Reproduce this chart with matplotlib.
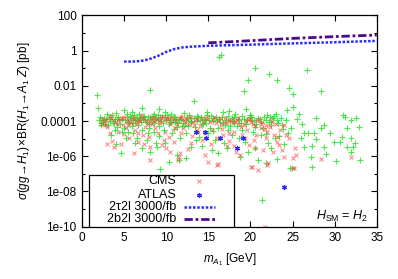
import numpy as np
import matplotlib
matplotlib.use("Agg")
import matplotlib.pyplot as plt
from matplotlib.patches import Rectangle
from matplotlib.lines import Line2D

plt.rcParams['font.family'] = ['Liberation Sans', 'DejaVu Sans']
plt.rcParams['font.size'] = 8.5
plt.rcParams['mathtext.fontset'] = 'custom'
plt.rcParams['mathtext.rm'] = 'Liberation Sans'
plt.rcParams['mathtext.it'] = 'Liberation Sans:italic'

# Projected sensitivity curves (3000/fb)
tau_mass = [5, 6, 7, 8, 9, 10, 11, 12, 13, 14, 15, 17.5, 20, 22.5, 25, 27.5, 30, 32.5, 35]
tau_xsec = [0.24, 0.24, 0.26, 0.33, 0.5, 0.85, 1.25, 1.55, 1.7, 1.8, 1.9, 2.05, 2.2, 2.4, 2.6,
            2.8, 3.0, 3.3, 3.6]
bb_mass = [15, 17.5, 20, 22.5, 25, 27.5, 30, 32.5, 35]
bb_xsec = [2.8, 3.2, 3.7, 4.3, 5.0, 5.6, 6.3, 7.0, 7.7]

# Scan points (all points, green)
all_points = [
    (1.8, 3.0e-3), (1.9, 5.2e-4), (8.1, 5.9e-3), (13.3, 1.4e-3), (16.25, 0.43), (16.55, 0.59),
    (20.5, 0.105), (22.2, 0.048), (23.1, 0.022), (26.7, 0.079), (19.7, 0.022), (19.2, 5.4e-3),
    (24.6, 7.9e-3), (25.0, 3.3e-3), (28.4, 5.4e-3), (25.1, 6.6e-4), (19.5, 4.9e-4), (24.3, 4.3e-4),
    (19.96, 2.2e-4), (31.0, 2.2e-4), (31.2, 1.8e-4), (32.5, 1.45e-4), (31.9, 1.1e-4), (27.8, 1.45e-4),
    (28.7, 6.0e-5), (28.4, 3.9e-5), (32.9, 4.5e-5), (31.5, 3.9e-5), (29.5, 2.0e-5), (26.4, 2.0e-5),
    (26.8, 2.0e-5), (27.5, 2.0e-5), (30.9, 1.2e-5), (31.9, 1.05e-5), (27.8, 9.3e-6), (26.0, 1.05e-5),
    (32.4, 5.5e-6), (32.2, 3.2e-6), (29.9, 6.3e-6), (30.7, 6.3e-6), (27.3, 4.0e-6), (26.4, 3.2e-6),
    (28.8, 3.2e-6), (31.5, 3.5e-6), (32.0, 1.7e-6), (29.0, 1.35e-6), (27.2, 9.5e-7), (30.2, 5.4e-7),
    (33.0, 6.2e-7), (27.3, 2.6e-7), (24.7, 2.1e-7), (23.2, 7.1e-7), (21.4, 3.2e-9), (9.3, 1.9e-7),
    (24.9, 2.2e-7), (25.5, 1.3e-4), (26.1, 7.0e-5), (24.8, 4.0e-5), (25.8, 2.4e-4),
    (2.0, 1.2e-4), (2.3, 6e-5), (2.6, 1.5e-4), (2.8, 1.4e-4), (3.0, 2.4e-4), (3.1, 6e-5),
    (3.3, 1.0e-4), (3.5, 1.8e-4), (3.7, 8e-5), (3.8, 7.4e-5), (4.0, 2.8e-4), (4.1, 1.3e-4),
    (4.2, 4.8e-5), (4.4, 1.1e-4), (4.6, 1.5e-6), (4.8, 2.5e-5), (5.0, 4.3e-4), (5.0, 3.9e-5),
    (5.2, 1.05e-5), (5.3, 1.6e-4), (5.5, 9e-5), (5.6, 7.4e-5), (5.8, 1.45e-4), (6.0, 2.0e-5),
    (6.0, 1.2e-4), (6.2, 2.2e-4), (6.3, 1.15e-4), (6.3, 5.5e-6), (6.5, 1.6e-4), (6.7, 6.0e-5),
    (6.9, 1.55e-4), (7.0, 8.5e-5), (7.1, 5.8e-4), (7.1, 3.1e-5), (7.1, 2.8e-6), (7.3, 1.3e-4),
    (7.5, 1.15e-4), (7.7, 8.3e-6), (7.8, 1.7e-4), (7.9, 6.6e-5), (8.1, 1.8e-4), (8.1, 1.8e-6),
    (8.3, 1.0e-4), (8.5, 2.4e-4), (8.5, 2.5e-5), (8.7, 1.3e-4), (8.8, 1.45e-4), (8.9, 3.5e-6),
    (9.1, 5.5e-5), (9.2, 4.9e-4), (9.3, 1.6e-4), (9.5, 1.8e-4), (9.7, 3.1e-5), (9.8, 3.2e-4),
    (9.9, 5.5e-6), (10.0, 1.1e-4), (10.2, 1.45e-4), (10.3, 6.6e-5), (10.3, 4.9e-7), (10.5, 1.2e-4),
    (10.7, 2.0e-5), (10.9, 1.8e-4), (11.0, 9e-5), (11.2, 1.3e-4), (11.3, 4.8e-5), (11.3, 1.2e-6),
    (11.5, 1.15e-4), (11.5, 6.2e-7), (11.6, 1.05e-5), (11.8, 1.8e-4), (12.0, 8e-5), (12.2, 6.0e-5),
    (12.4, 7.6e-7), (12.5, 1.6e-4), (12.8, 1.45e-4), (13.0, 3.5e-6), (13.0, 1.0e-4), (13.4, 4.8e-5),
    (13.6, 1.9e-4), (13.8, 1.8e-4), (14.0, 1.2e-4), (14.2, 7e-5), (14.4, 6.6e-5), (14.6, 1.15e-4),
    (14.8, 2.1e-4), (15.0, 2.0e-5), (15.2, 4.3e-5), (15.4, 2.3e-6), (15.6, 1.45e-4), (15.8, 8.3e-6),
    (16.0, 1.2e-4), (16.2, 1.5e-6), (16.4, 9e-5), (16.6, 1.8e-4), (16.8, 3.2e-4), (17.0, 6.0e-5),
    (17.2, 2.8e-6), (17.4, 3.7e-4), (17.6, 1.0e-4), (17.8, 1.45e-4), (17.8, 1.6e-5), (18.0, 7.5e-5),
    (18.4, 5.5e-5), (18.7, 1.15e-4), (18.8, 9.5e-7), (19.0, 1.9e-4), (19.3, 6.8e-6), (19.5, 6.6e-5),
    (19.9, 1.8e-4), (20.2, 1.0e-4), (20.5, 4.8e-5), (20.5, 2.8e-6), (20.9, 1.45e-4), (20.9, 6.2e-7),
    (21.3, 1.6e-5), (21.5, 3.9e-5), (21.9, 1.15e-4), (21.9, 4.0e-7), (22.1, 5.5e-6), (22.3, 1.6e-4),
    (22.5, 6.0e-5), (22.7, 1.45e-4), (22.9, 1.05e-5), (23.3, 8e-5), (23.6, 1.5e-4), (23.9, 3.5e-5),
    (24.2, 1.1e-4), (24.5, 2.0e-5), (23.0, 2.6e-4), (2.5, 9e-5), (3.4, 1.6e-5), (4.0, 4.8e-6),
    (5.9, 3.5e-4), (6.8, 2.5e-4), (8.0, 4.0e-5), (9.0, 2.2e-4), (10.6, 2.6e-4), (12.1, 2.9e-4),
    (13.5, 8.0e-6), (14.9, 3.5e-4), (16.1, 4.0e-5), (18.2, 2.6e-4), (19.0, 3.1e-5), (20.0, 2.3e-4),
    (21.2, 9e-5), (22.0, 2.2e-4), (15.5, 1e-4), (12.6, 5e-5), (9.6, 8e-5), (7.4, 2e-4),
    (5.4, 2.6e-4), (3.9, 1.3e-4), (2.2, 8.0e-5),
    (2.1, 1.6e-4), (2.4, 1.1e-4), (2.7, 7e-5), (3.2, 1.3e-4), (3.6, 2.2e-4), (4.3, 1.7e-4),
    (4.5, 7e-5), (4.7, 1.4e-4), (5.1, 1.1e-4), (5.7, 1.9e-4), (6.1, 8e-5), (6.4, 1.4e-4),
    (6.6, 1.0e-4), (7.2, 1.7e-4), (7.6, 9e-5), (8.2, 1.3e-4), (8.4, 2.0e-4), (8.6, 8e-5),
    (9.0, 1.2e-4), (9.4, 9.5e-5), (9.9, 1.6e-4), (10.1, 2.1e-4), (10.4, 9e-5), (10.8, 1.3e-4),
    (11.1, 1.7e-4), (11.4, 8e-5), (11.7, 1.3e-4), (12.3, 1.1e-4), (12.7, 2.1e-4), (12.9, 8.5e-5),
    (13.3, 1.5e-4), (13.7, 1.0e-4), (14.1, 1.7e-4), (14.5, 1.4e-4), (14.7, 8e-5), (15.1, 1.2e-4),
    (15.3, 1.9e-4), (15.9, 1.6e-4), (16.3, 1.35e-4), (16.7, 8e-5), (17.1, 1.2e-4), (17.3, 1.9e-4),
    (17.9, 1.0e-4), (18.1, 1.6e-4), (18.5, 1.3e-4), (18.9, 8e-5), (19.2, 1.4e-4), (19.6, 1.1e-4),
    (20.1, 1.6e-4), (20.4, 1.2e-4), (20.7, 7e-5), (21.1, 1.4e-4), (21.6, 1.7e-4), (22.2, 9e-5),
    (22.8, 1.9e-4), (23.1, 1.2e-4), (3.9, 3e-5), (5.5, 2.5e-5), (7.8, 2.2e-5), (9.2, 1.4e-5),
    (10.9, 3.5e-5), (12.4, 2.2e-5), (13.9, 1.3e-5), (15.6, 2.7e-5), (17.3, 3.0e-5), (18.6, 1.1e-5),
    (20.3, 2.4e-5), (21.8, 1.9e-5), (23.4, 1.4e-5), (6.5, 1.1e-5), (8.8, 6e-6), (14.2, 4e-6),
    (16.9, 6e-6), (19.7, 1.7e-6), (22.5, 3e-6), (24.0, 5e-6), (5.9, 5e-5), (11.9, 5e-5),
    (17.6, 5e-5), (23.8, 6e-5),
]

# Points allowed by CMS limits
cms_points = [
    (3.0, 4.8e-6), (3.8, 3.5e-6), (3.4, 1.45e-4), (4.0, 9.3e-5), (3.0, 4.8e-5), (2.6, 1.0e-4),
    (2.2, 7e-5), (5.0, 1.8e-4), (5.6, 1.15e-4), (6.0, 1.8e-4), (6.5, 9.3e-5), (7.3, 1.45e-4),
    (7.9, 1.0e-4), (8.5, 1.8e-4), (9.3, 1.15e-4), (10.1, 1.55e-4), (10.7, 9.3e-5), (11.5, 1.45e-4),
    (5.2, 3.9e-5), (6.3, 3.1e-5), (7.5, 4.8e-5), (8.7, 3.9e-5), (9.9, 2.5e-5), (11.1, 3.9e-5),
    (5.6, 1.05e-5), (6.7, 6.8e-6), (8.1, 3.5e-6), (9.5, 4.4e-6), (6.2, 1.5e-6), (8.1, 6.2e-7),
    (10.5, 1.8e-6), (11.5, 9.5e-7), (9.7, 8.3e-6), (10.9, 6.8e-6),
    (12.4, 1.45e-4), (13.2, 9.3e-5), (14.2, 1.45e-4), (15.2, 8.5e-5), (16.2, 1.15e-4), (17.2, 7.4e-5),
    (18.2, 1.0e-4), (19.2, 6.0e-5), (20.1, 9.3e-5), (21.3, 6.6e-5), (22.3, 4.8e-5), (12.0, 3.9e-5),
    (13.8, 2.5e-5), (15.4, 3.1e-5), (16.8, 1.6e-5), (18.0, 2.5e-5), (19.3, 1.05e-5), (20.7, 1.6e-5),
    (21.9, 1.05e-5), (11.6, 1.5e-6), (11.4, 6.2e-7), (14.6, 1.2e-6), (15.0, 4.9e-7), (16.2, 3.5e-7),
    (17.2, 4.0e-6), (18.8, 1.2e-6), (20.1, 2.6e-7), (20.9, 1.7e-7), (22.1, 4.0e-7), (22.7, 1.8e-6),
    (22.8, 1.6e-5), (23.2, 6.8e-6), (24.2, 1.6e-5), (24.0, 6.0e-5), (23.4, 4.4e-6), (24.6, 1.05e-5),
    (24.0, 9.5e-7), (25.1, 8.3e-7), (25.4, 1.2e-6), (25.2, 2.1e-7), (25.3, 3.1e-6), (28.4, 7.1e-7),
    (32.0, 9.5e-7), (21.7, 1.0e-10), (16.0, 3.2e-7), (20.2, 2.5e-7), (22.0, 3.2e-7), (25.0, 2.2e-7),
    (2.9, 1.2e-4), (4.5, 1.3e-4), (4.9, 6e-5), (5.8, 8e-5), (6.8, 1.3e-4), (7.0, 2.2e-4),
    (8.3, 7e-5), (8.9, 1.3e-4), (9.6, 2.0e-4), (10.4, 7e-5), (11.9, 1.1e-4), (12.7, 7e-5),
    (13.5, 1.25e-4), (14.0, 5.5e-5), (14.8, 1.3e-4), (15.7, 1.7e-4), (16.5, 6e-5), (17.0, 1.5e-4),
    (17.7, 1.2e-4), (18.5, 1.5e-4), (18.9, 4.5e-5), (19.7, 1.3e-4), (20.5, 5e-5), (21.0, 1.1e-4),
    (21.7, 3.5e-5), (22.6, 9e-5), (23.5, 3e-5), (7.2, 1.6e-5), (12.9, 6e-6), (14.3, 8e-6),
    (17.5, 7e-6), (18.3, 1.8e-6), (19.8, 4.5e-6), (21.5, 2.4e-6), (23.8, 2.2e-6), (4.3, 2.5e-5),
    (3.6, 7e-6),
    (2.4, 1.3e-4), (2.7, 6e-5), (3.2, 1.9e-4), (3.7, 1.1e-4), (4.2, 7e-5), (4.7, 1.5e-4),
    (5.3, 1.0e-4), (5.5, 6e-5), (6.1, 1.3e-4), (6.4, 7e-5), (6.9, 1.0e-4), (7.6, 1.2e-4),
    (7.8, 7e-5), (8.2, 1.5e-4), (8.6, 1.0e-4), (9.1, 8e-5), (9.4, 1.6e-4), (9.8, 1.1e-4),
    (10.2, 1.3e-4), (10.6, 1.7e-4), (11.0, 1.2e-4), (11.3, 7e-5), (11.8, 1.6e-4), (12.2, 9e-5),
    (12.5, 1.2e-4), (13.0, 1.6e-4), (13.3, 6e-5), (13.7, 1.1e-4), (14.4, 9e-5), (14.9, 1.6e-4),
    (15.5, 1.2e-4), (15.9, 8e-5), (16.4, 1.5e-4), (16.9, 9e-5), (17.4, 1.2e-4), (17.9, 8e-5),
    (18.4, 1.2e-4), (18.7, 7e-5), (19.5, 1.0e-4), (20.0, 1.3e-4), (20.3, 7e-5), (20.8, 1.2e-4),
    (21.4, 9e-5), (21.9, 6e-5), (22.5, 1.1e-4), (23.0, 7e-5), (3.3, 2.2e-5), (5.0, 1.8e-5),
    (6.6, 2.2e-5), (8.0, 1.3e-5), (9.0, 2.0e-5), (10.3, 1.2e-5), (11.7, 2.2e-5), (13.1, 1.5e-5),
    (14.6, 2.0e-5), (16.0, 1.1e-5), (17.5, 2.0e-5), (19.0, 1.6e-5), (20.4, 8e-6), (22.0, 2.5e-5),
    (23.3, 1.2e-5), (4.6, 5e-6), (7.4, 5e-6), (10.0, 3e-6), (12.6, 2.5e-6), (15.3, 5e-6),
    (18.0, 4e-6), (20.6, 3e-6), (13.6, 3e-5), (16.6, 3.5e-5), (19.6, 3e-5), (21.2, 4e-5),
]

# Points allowed by ATLAS limits
atlas_points = [(13.5, 2.5e-5), (14.6, 2.5e-5), (14.7, 1.05e-5), (16.4, 1.05e-5), (18.4, 2.8e-6),
                (19.1, 1.15e-5), (24.0, 1.9e-8)]

green = '#22e022'
red = '#ff4848'
blue = '#2a2aff'
purple = '#4b0a8c'

fig = plt.figure(figsize=(3.98, 2.79), dpi=100)
ax = fig.add_axes([0.206, 0.1875, 0.7405, 0.757])

gx, gy = zip(*all_points)
cx, cy = zip(*cms_points)
axx, axy = zip(*atlas_points)
ax.plot(gx, gy, '+', color=green, ms=4.5, mew=0.8, alpha=0.8)
ax.plot(cx, cy, 'x', color=red, ms=3.5, mew=0.7, alpha=0.7)
ax.plot(axx, axy, ls='none', marker=(6, 2, 0), color=blue, ms=3.5, mew=0.9)
ax.plot(tau_mass, tau_xsec, ls=(0, (1, 0.7)), color=blue, lw=1.8)
ax.plot(bb_mass, bb_xsec, ls=(0, (3, 1, 1, 1)), color=purple, lw=2.0)

ax.set_yscale('log')
ax.set_xlim(0, 35)
ax.set_ylim(1e-10, 100)
ax.set_xticks(range(0, 36, 5))
ax.set_yticks([1e2, 1, 1e-2, 1e-4, 1e-6, 1e-8, 1e-10])
ax.set_yticklabels(['100', '1', '0.01', '0.0001', '1e-06', '1e-08', '1e-10'])
ax.set_yticks([10.0 ** k for k in range(-9, 2, 2)], minor=True)
ax.yaxis.set_minor_formatter(plt.NullFormatter())
ax.tick_params(which='both', direction='in', top=True, right=True, width=0.8)
ax.tick_params(which='major', length=4.5, pad=4)
ax.tick_params(which='minor', length=2.5)
for s in ax.spines.values():
    s.set_linewidth(0.9)

ax.set_xlabel(r'$m_{A_1}$ [GeV]', labelpad=5)
ax.set_ylabel(r'$\sigma(gg\!\to\!H_1)\!\times\!$BR$(H_1\!\to\!A_1\ Z)$ [pb]', labelpad=6)

ax.text(0.97, 0.048, r'$H_{\mathrm{SM}}$ = $H_2$', transform=ax.transAxes, ha='right', va='center',
        fontsize=9)

# gnuplot-style key, labels right-aligned with samples to the right
ax.add_patch(Rectangle((0.024, 0.0), 0.491, 0.245, transform=ax.transAxes, facecolor='white',
                       edgecolor='black', lw=0.9, zorder=5))
rows = [0.215, 0.152, 0.092, 0.035]
labels = ['CMS', 'ATLAS', '2τ2l 3000/fb', '2b2l 3000/fb']
for r, lab in zip(rows, labels):
    ax.text(0.32, r, lab, transform=ax.transAxes, ha='right', va='center', zorder=6, fontsize=9)
ax.add_line(Line2D([0.397], [rows[0]], transform=ax.transAxes, ls='none', marker='x', color=red,
                   ms=3.5, mew=0.7, alpha=0.7, zorder=6))
ax.add_line(Line2D([0.397], [rows[1]], transform=ax.transAxes, ls='none', marker=(6, 2, 0),
                   color=blue, ms=3.5, mew=0.9, zorder=6))
ax.add_line(Line2D([0.345, 0.452], [rows[2]] * 2, transform=ax.transAxes, ls=(0, (1, 0.7)),
                   color=blue, lw=1.8, zorder=6))
ax.add_line(Line2D([0.345, 0.452], [rows[3]] * 2, transform=ax.transAxes, ls=(0, (3, 1, 1, 1)),
                   color=purple, lw=2.0, zorder=6))

fig.savefig('out.png', dpi=100)
